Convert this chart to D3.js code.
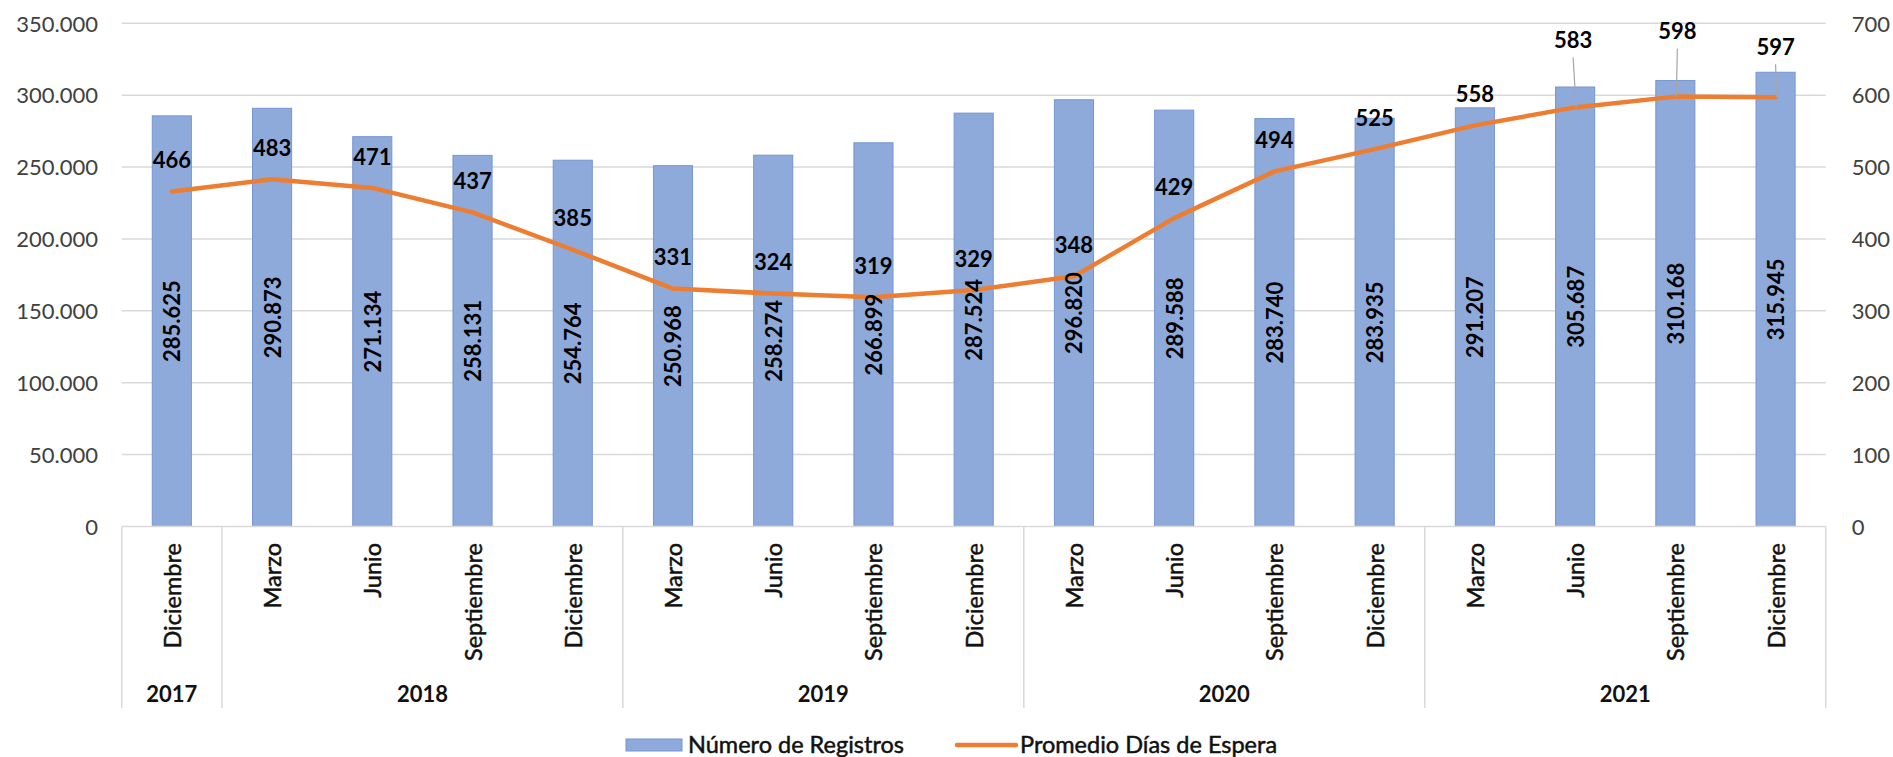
<!DOCTYPE html>
<html>
<head>
<meta charset="utf-8">
<script src="https://cdn.jsdelivr.net/npm/d3@7"></script>
<style>
  html, body { margin: 0; padding: 0; background: #fff; }
  svg { display: block; font-family: Lato, "Noto Sans", sans-serif; }
</style>
</head>
<body>
<svg id="chart" width="1893" height="757"></svg>
<script>
// ---------------- data ----------------
const months = ["Diciembre","Marzo","Junio","Septiembre","Diciembre","Marzo","Junio","Septiembre","Diciembre","Marzo","Junio","Septiembre","Diciembre","Marzo","Junio","Septiembre","Diciembre"];
const years  = ["2017","2018","2018","2018","2018","2019","2019","2019","2019","2020","2020","2020","2020","2021","2021","2021","2021"];
const registros = [285625, 290873, 271134, 258131, 254764, 250968, 258274, 266899, 287524, 296820, 289588, 283740, 283935, 291207, 305687, 310168, 315945];
const diasEspera = [466, 483, 471, 437, 385, 331, 324, 319, 329, 348, 429, 494, 525, 558, 583, 598, 597];
const leftTicks = [0, 50000, 100000, 150000, 200000, 250000, 300000, 350000];
const rightTicks = [0, 100, 200, 300, 400, 500, 600, 700];
const seriesNames = ["Número de Registros", "Promedio Días de Espera"];

// label offsets for the last three line labels (with leader lines)
const leaderOffsets = { 14: [-2, -67], 15: [2, -65], 16: [0, -50] };

// ---------------- layout ----------------
const L = 121.7, R = 1825.7, T = 23.3, B = 526.5;
const svg = d3.select("#chart");
const idx = d3.range(months.length);

const x = d3.scaleBand().domain(idx).range([L, R]).paddingInner(0.61).paddingOuter(0.305);
const xc = i => x(i) + x.bandwidth() / 2;
const yL = d3.scaleLinear().domain([0, 350000]).range([B, T]);
const yR = d3.scaleLinear().domain([0, 700]).range([B, T]);

const fmt = v => d3.format(",")(v).replace(/,/g, ".");

// gridlines
svg.append("g").selectAll("line").data(leftTicks.filter(d => d > 0)).join("line")
  .attr("x1", L).attr("x2", R)
  .attr("y1", d => yL(d)).attr("y2", d => yL(d))
  .attr("stroke", "#d9d9d9").attr("stroke-width", 1.5);

// left axis
const axL = d3.axisLeft(yL).tickValues(leftTicks).tickSize(0).tickPadding(0).tickFormat(fmt);
const gL = svg.append("g").attr("transform", `translate(${L - 23.7},0)`).call(axL);
gL.select(".domain").remove();
gL.selectAll("text").attr("font-size", 22).attr("fill", "#404040").attr("font-family", "Lato").attr("dy", "0.35em");

// right axis
const axR = d3.axisRight(yR).tickValues(rightTicks).tickSize(0).tickPadding(0);
const gR = svg.append("g").attr("transform", `translate(${R + 26},0)`).call(axR);
gR.select(".domain").remove();
gR.selectAll("text").attr("font-size", 22).attr("fill", "#404040").attr("font-family", "Lato").attr("dy", "0.35em");

// bars
svg.append("g").selectAll("rect").data(idx).join("rect")
  .attr("x", i => x(i)).attr("width", x.bandwidth())
  .attr("y", i => yL(registros[i])).attr("height", i => yL(0) - yL(registros[i]))
  .attr("fill", "#8eaadb").attr("stroke", "#7596d2").attr("stroke-width", 1);

// category axis base line
svg.append("line").attr("x1", L).attr("x2", R).attr("y1", B).attr("y2", B)
  .attr("stroke", "#d9d9d9").attr("stroke-width", 1.5);

// year separators
const step = x.step();
const groups = [];
idx.forEach(i => {
  if (!groups.length || groups[groups.length - 1].year !== years[i]) groups.push({ year: years[i], start: i, end: i });
  else groups[groups.length - 1].end = i;
});
const sepX = [L].concat(groups.map(g => L + step * (g.end + 1)));
svg.append("g").selectAll("line").data(sepX).join("line")
  .attr("x1", d => d).attr("x2", d => d).attr("y1", B).attr("y2", 708)
  .attr("stroke", "#d9d9d9").attr("stroke-width", 1.5);

// month labels
svg.append("g").selectAll("text").data(idx).join("text")
  .attr("transform", i => `translate(${xc(i)},543) rotate(-90)`)
  .attr("text-anchor", "end").attr("dominant-baseline", "central")
  .attr("font-size", 23.5).attr("fill", "#111").attr("stroke", "#111").attr("stroke-width", 0.5)
  .text(i => months[i]);

// year labels
svg.append("g").selectAll("text").data(groups).join("text")
  .attr("x", g => (L + step * g.start + L + step * (g.end + 1)) / 2)
  .attr("y", 694).attr("dy", "0.35em")
  .attr("text-anchor", "middle").attr("font-size", 22).attr("font-weight", 700).attr("fill", "#111")
  .text(g => g.year);

// line
const line = d3.line().x(i => xc(i)).y(i => yR(diasEspera[i]));
svg.append("path").datum(idx).attr("d", line)
  .attr("fill", "none").attr("stroke", "#ed7d31").attr("stroke-width", 4.5)
  .attr("stroke-linejoin", "round").attr("stroke-linecap", "round");

// bar labels (centered in bar)
svg.append("g").selectAll("text").data(idx).join("text")
  .attr("transform", i => `translate(${xc(i)},${(yL(registros[i]) + yL(0)) / 2}) rotate(-90)`)
  .attr("text-anchor", "middle").attr("dominant-baseline", "central")
  .attr("font-size", 22).attr("font-weight", 700).attr("fill", "#000")
  .text(i => fmt(registros[i]));

// leader lines
const leaders = idx.filter(i => leaderOffsets[i]);
svg.append("g").selectAll("line").data(leaders).join("line")
  .attr("x1", i => xc(i) + 1).attr("y1", i => yR(diasEspera[i]))
  .attr("x2", i => xc(i) + leaderOffsets[i][0]).attr("y2", i => yR(diasEspera[i]) + leaderOffsets[i][1] + 17)
  .attr("stroke", "#a6a6a6").attr("stroke-width", 1.2);

// line labels
svg.append("g").selectAll("text").data(idx).join("text")
  .attr("x", i => xc(i) + (leaderOffsets[i] ? leaderOffsets[i][0] : 0))
  .attr("y", i => yR(diasEspera[i]) + (leaderOffsets[i] ? leaderOffsets[i][1] : -31))
  .attr("dy", "0.35em").attr("text-anchor", "middle")
  .attr("font-size", 22).attr("font-weight", 700).attr("fill", "#000")
  .text(i => diasEspera[i]);

// legend
const lg = svg.append("g");
lg.append("rect").attr("x", 626).attr("y", 739).attr("width", 56).attr("height", 12)
  .attr("fill", "#8eaadb").attr("stroke", "#7596d2");
lg.append("text").attr("x", 688).attr("y", 745).attr("dy", "0.35em")
  .attr("font-size", 23.5).attr("fill", "#111").attr("stroke", "#111").attr("stroke-width", 0.5).text(seriesNames[0]);
lg.append("line").attr("x1", 957).attr("x2", 1016).attr("y1", 745).attr("y2", 745)
  .attr("stroke", "#ed7d31").attr("stroke-width", 4.5).attr("stroke-linecap", "round");
lg.append("text").attr("x", 1020).attr("y", 745).attr("dy", "0.35em")
  .attr("font-size", 23.5).attr("fill", "#111").attr("stroke", "#111").attr("stroke-width", 0.5).text(seriesNames[1]);
</script>
</body>
</html>
